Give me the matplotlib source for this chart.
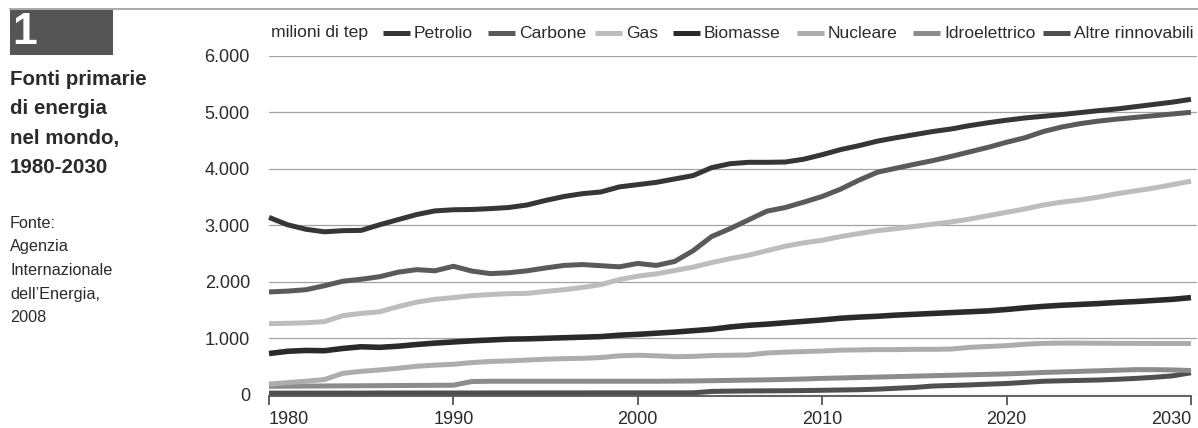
import matplotlib
matplotlib.use("Agg")
import matplotlib.pyplot as plt
from matplotlib.lines import Line2D
from matplotlib.patches import Rectangle

plt.rcParams['font.family'] = ['Liberation Sans', 'DejaVu Sans']

years = list(range(1980, 2031))

petrolio = [3140, 3010, 2930, 2885, 2905, 2910, 3010, 3100, 3190, 3255,
            3275, 3280, 3295, 3315, 3360, 3440, 3510, 3560, 3590, 3680,
            3720, 3760, 3820, 3880, 4020, 4090, 4115, 4115, 4120, 4170,
            4250, 4340, 4410, 4490, 4550, 4605, 4660, 4705, 4765, 4815,
            4860, 4900, 4930, 4960, 4995, 5030, 5060, 5100, 5140, 5180, 5230]
carbone = [1820, 1835, 1860, 1930, 2010, 2045, 2090, 2170, 2215, 2195,
           2275, 2190, 2145, 2160, 2195, 2245, 2290, 2305, 2285, 2265,
           2325, 2290, 2360, 2550, 2800, 2940, 3095, 3250, 3315, 3410,
           3510, 3640, 3800, 3940, 4010, 4080, 4145, 4220, 4300, 4380,
           4470, 4550, 4660, 4740, 4800, 4845, 4880, 4910, 4940, 4970, 5000]
gas = [1260, 1265, 1275, 1295, 1400, 1440, 1470, 1560, 1640, 1690,
       1720, 1755, 1775, 1790, 1795, 1830, 1860, 1900, 1950, 2040,
       2100, 2140, 2200, 2260, 2340, 2410, 2470, 2550, 2630, 2690,
       2735, 2800, 2855, 2905, 2940, 2980, 3020, 3060, 3110, 3170,
       3230, 3290, 3360, 3410, 3450, 3500, 3560, 3610, 3660, 3720, 3780]
biomasse = [730, 770, 785, 780, 820, 850, 840, 860, 890, 915,
            935, 955, 970, 985, 990, 1000, 1010, 1020, 1030, 1055,
            1070, 1090, 1110, 1135, 1160, 1200, 1230, 1250, 1275, 1300,
            1325, 1355, 1375, 1390, 1410, 1425, 1440, 1455, 1470, 1485,
            1510, 1540, 1565, 1585, 1600, 1615, 1635, 1650, 1670, 1690, 1720]
nucleare = [190, 215, 240, 270, 380, 415, 440, 470, 505, 525,
            540, 570, 590, 600, 615, 630, 640, 645, 660, 690,
            700, 690, 675, 680, 695, 700, 705, 740, 755, 765,
            775, 790, 795, 800, 800, 805, 805, 810, 840, 855,
            870, 895, 910, 915, 915, 912, 910, 910, 908, 908, 908]
idroelettrico = [150, 152, 154, 156, 158, 160, 162, 164, 166, 168,
                 170, 235, 240, 240, 240, 240, 240, 240, 240, 240,
                 240, 240, 242, 245, 250, 255, 260, 265, 272, 280,
                 290, 298, 306, 314, 322, 330, 338, 346, 354, 362,
                 370, 382, 395, 405, 415, 425, 435, 445, 445, 440, 430]
altre = [30, 30, 30, 30, 30, 30, 32, 32, 32, 32,
         32, 32, 33, 33, 33, 34, 34, 34, 35, 35,
         35, 35, 35, 35, 60, 65, 68, 70, 72, 75,
         80, 85, 90, 100, 115, 130, 155, 165, 175, 188,
         200, 220, 240, 248, 255, 262, 275, 290, 310, 335, 390]

series_names = ["Petrolio", "Carbone", "Gas", "Biomasse", "Nucleare",
                "Idroelettrico", "Altre rinnovabili"]
series_values = [petrolio, carbone, gas, biomasse, nucleare, idroelettrico, altre]
colors = ["#363636", "#5a5a5a", "#bdbdbd", "#2a2a2a", "#adadad", "#8c8c8c", "#4f4f4f"]
widths = [3.6, 3.6, 3.6, 4.0, 3.6, 3.6, 3.6]

yticks = [0, 1000, 2000, 3000, 4000, 5000, 6000]
ytick_labels = ["0", "1.000", "2.000", "3.000", "4.000", "5.000", "6.000"]
xticks = [1980, 1990, 2000, 2010, 2020, 2030]
xtick_labels = ["1980", "1990", "2000", "2010", "2020", "2030"]

W, H = 1198, 428
fig = plt.figure(figsize=(W / 100, H / 100), dpi=100)

def fx(px):
    return px / W

def fy(py):
    return 1 - py / H

ax = fig.add_axes([fx(269), fy(394.8), (1196.5 - 269) / W, (394.8 - 55.8) / H])
ax.set_xlim(1980, 2030.3)
ax.set_ylim(0, 6000)

for s in ["top", "left", "right"]:
    ax.spines[s].set_visible(False)
ax.spines["bottom"].set_color("#555555")
ax.spines["bottom"].set_linewidth(1.3)
ax.spines["bottom"].set_bounds(1980, 2030)
ax.spines["bottom"].set_position(("outward", 1))

ax.set_yticks(yticks)
ax.set_yticklabels(ytick_labels)
ax.set_xticks(xticks)
ax.set_xticklabels(xtick_labels)
ax.tick_params(axis="y", length=0, pad=13.7, labelsize=13, labelcolor="#2b2b2b")
ax.tick_params(axis="x", direction="out", length=6.5, width=1.3, color="#555555",
               pad=4.0, labelsize=13, labelcolor="#2b2b2b")
xlabels = ax.get_xticklabels()
xlabels[0].set_horizontalalignment("left")
xlabels[-1].set_horizontalalignment("right")
ax.yaxis.grid(True, color="#a3a3a3", linewidth=0.9)
ax.set_axisbelow(True)

order = [6, 5, 4, 3, 2, 1, 0]
for i in order:
    ax.plot(years, series_values[i], color=colors[i], lw=widths[i],
            solid_capstyle="butt", solid_joinstyle="round", clip_on=False, zorder=3)

# Top rule
fig.add_artist(Line2D([fx(10), fx(1198)], [fy(9), fy(9)], color="#9a9a9a", lw=1.2))

# Number box
fig.add_artist(Rectangle((fx(10), fy(55)), 103 / W, 45 / H, transform=fig.transFigure,
                         facecolor="#555555", edgecolor="none"))
fig.text(fx(12), fy(33), "1", color="white", fontsize=32, weight="bold",
         va="center", ha="left")

# Title
title_lines = ["Fonti primarie", "di energia", "nel mondo,", "1980-2030"]
for k, t in enumerate(title_lines):
    fig.text(fx(10), fy(85 + 29.3 * k), t, fontsize=14.8, weight="bold",
             color="#2b2b2b", va="baseline", ha="left")

source_lines = ["Fonte:", "Agenzia", "Internazionale", "dell\u2019Energia,", "2008"]
for k, t in enumerate(source_lines):
    fig.text(fx(10), fy(228 + 23.5 * k), t, fontsize=11.7,
             color="#2b2b2b", va="baseline", ha="left")

# Legend
fig.text(fx(271), fy(33), "milioni di tep", fontsize=12.6, color="#2b2b2b",
         va="center", ha="left")
handle_x = [383, 488, 595, 673, 797, 913, 1043]
for i, name in enumerate(series_names):
    x0 = handle_x[i]
    fig.add_artist(Line2D([fx(x0), fx(x0 + 27)], [fy(33), fy(33)], color=colors[i],
                          lw=3.6, solid_capstyle="butt"))
    fig.text(fx(x0 + 31), fy(33), name, fontsize=12.6, color="#2b2b2b",
             va="center", ha="left")

fig.savefig("out.png", dpi=100)
